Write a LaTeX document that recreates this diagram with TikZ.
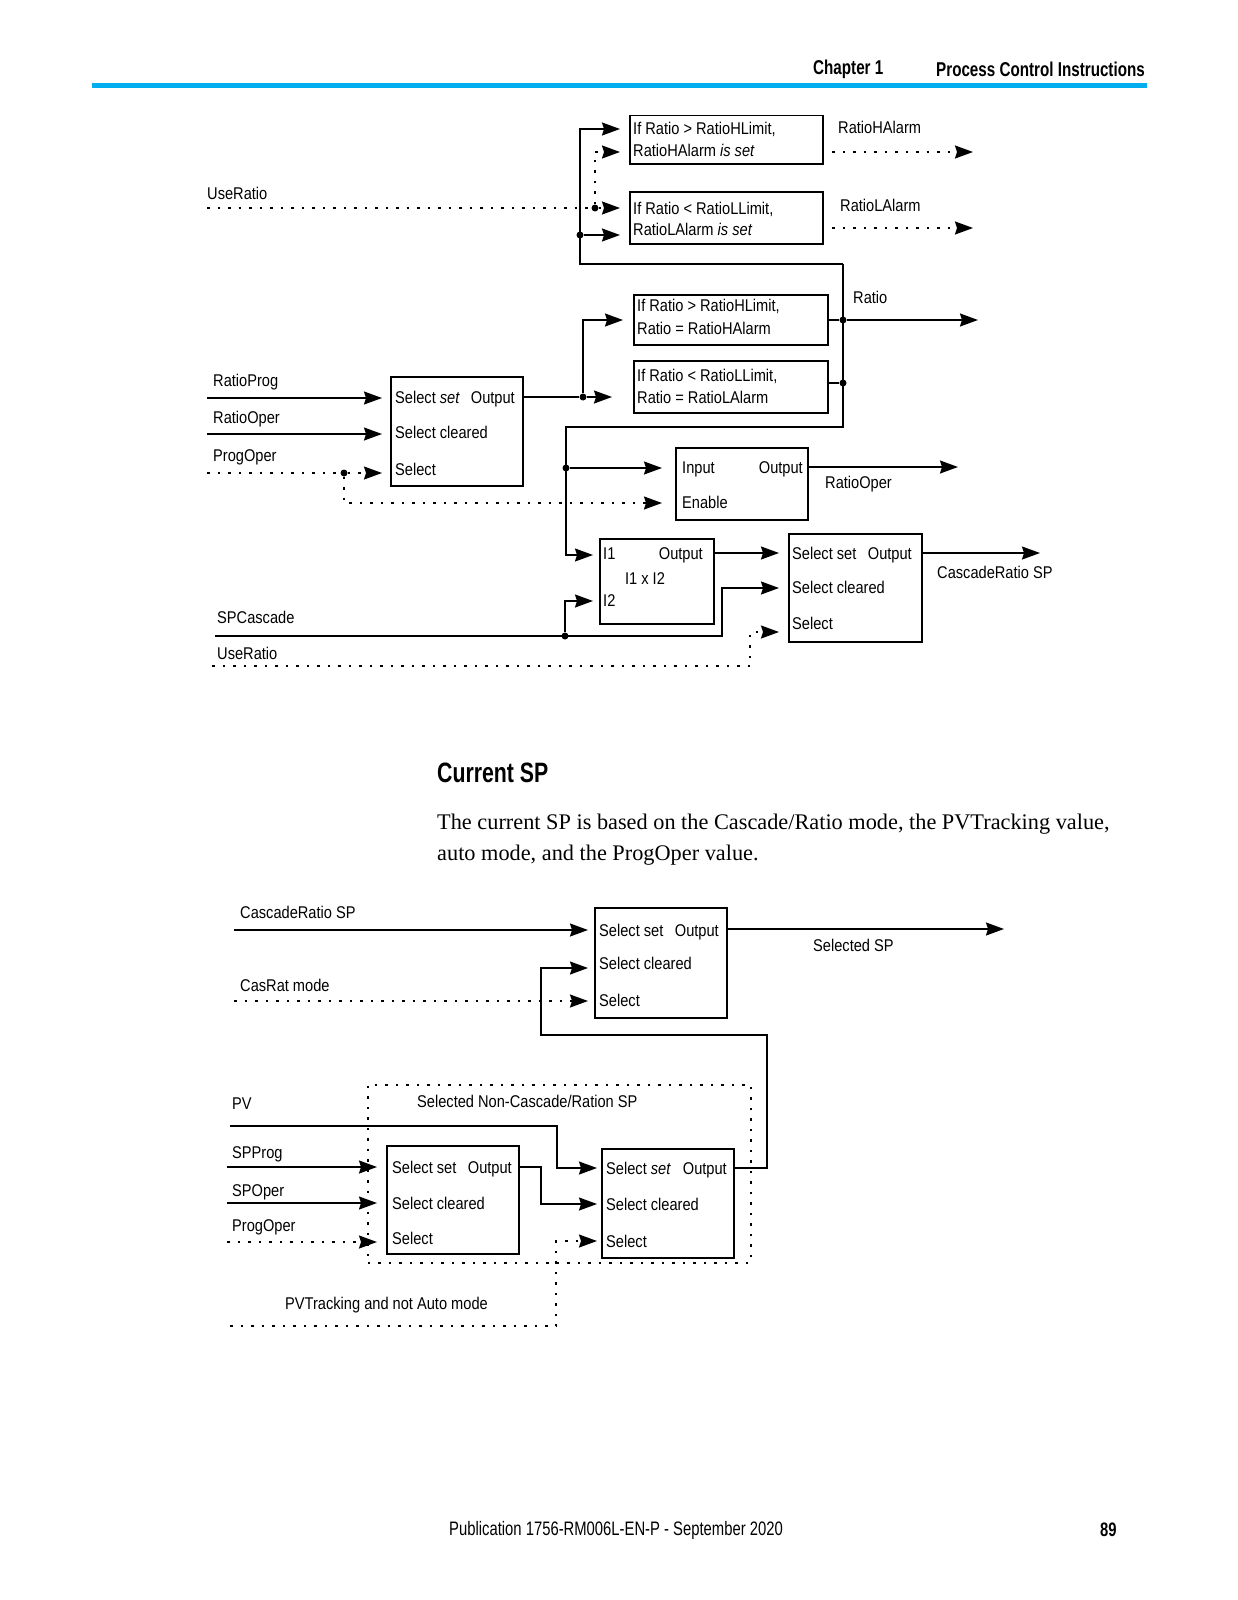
\documentclass[tikz,border=0pt]{standalone}
\usepackage{fontspec}
\setmainfont{Liberation Serif}
\newfontfamily\dfont[FakeStretch=0.86]{Liberation Sans}
\newfontfamily\hfont[FakeStretch=0.76]{Liberation Sans}
\usetikzlibrary{arrows.meta}
\definecolor{rulecyan}{RGB}{0,174,239}
\begin{document}
\begin{tikzpicture}[x=1pt,y=-1pt,
  ln/.style={line width=1.5pt},
  dl/.style={line width=1.5pt, dash pattern=on 2.5pt off 8pt},
  tip/.style={-{Stealth[length=18pt,width=13pt,inset=2pt]}},
  blk/.style={draw, line width=1.5pt, inner sep=0pt, anchor=north west},
  dotn/.style={circle, fill, inner sep=0pt, minimum size=7pt},
  lbl/.style={font=\dfont\fontsize{17}{19}\selectfont, inner sep=0pt, text height=12pt, text depth=0pt},
  lw/.style={lbl, anchor=west},
  le/.style={lbl, anchor=east},
  hdr/.style={font=\hfont\bfseries\fontsize{20}{22}\selectfont, inner sep=0pt},
]
\useasboundingbox (0,0) rectangle (1237,1600);

% ---------------- header ----------------
\node[hdr, anchor=west] (chap) at (813,69) {Chapter 1};
\node[hdr, anchor=east] (sect) at (1145,69) {Process Control Instructions};
\fill[rulecyan] (92,83) rectangle (1147,88);

% ---------------- diagram 1: boxes ----------------
\node[blk, minimum width=193pt, minimum height=48pt] (HA) at (629,115) {};
\node[blk, minimum width=193pt, minimum height=52pt] (LA) at (629,191) {};
\node[blk, minimum width=194pt, minimum height=50pt] (HR) at (633,294) {};
\node[blk, minimum width=194pt, minimum height=52pt] (LR) at (633,360) {};
\node[blk, minimum width=132pt, minimum height=109pt] (A) at (390,376) {};
\node[blk, minimum width=132pt, minimum height=72pt] (EN) at (675,447) {};
\node[blk, minimum width=114pt, minimum height=85pt] (MUL) at (599,538) {};
\node[blk, minimum width=133pt, minimum height=108pt] (C) at (788,533) {};

% box texts
\node[lw] (HA1) at (633,129) {If Ratio > RatioHLimit,};
\node[lw] (HA2) at (633,151) {RatioHAlarm \textit{is set}};
\node[lw] (LA1) at (633,208) {If Ratio < RatioLLimit,};
\node[lw] (LA2) at (633,229) {RatioLAlarm \textit{is set}};
\node[lw] (HR1) at (637,305) {If Ratio > RatioHLimit,};
\node[lw] (HR2) at (637,328) {Ratio = RatioHAlarm};
\node[lw] (LR1) at (637,375) {If Ratio < RatioLLimit,};
\node[lw] (LR2) at (637,397) {Ratio = RatioLAlarm};
\node[lw] (A1) at (395,397) {Select \textit{set}};
\node[le] (A0) at (515,397) {Output};
\node[lw] (A2) at (395,432) {Select cleared};
\node[lw] (A3) at (395,469) {Select};
\node[lw] (EN1) at (682,467) {Input};
\node[le] (EN0) at (803,467) {Output};
\node[lw] (EN2) at (682,502) {Enable};
\node[lw] (MUL1) at (603,553) {I1};
\node[le] (MUL0) at (703,553) {Output};
\node[lbl] (MULx) at (645,578) {I1 x I2};
\node[lw] (MUL2) at (603,600) {I2};
\node[lw] (C1) at (792,553) {Select set};
\node[le] (C0) at (912,553) {Output};
\node[lw] (C2) at (792,587) {Select cleared};
\node[lw] (C3) at (792,623) {Select};

% outer labels
\node[lw] (lHA) at (838,127) {RatioHAlarm};
\node[lw] (lLA) at (840,205) {RatioLAlarm};
\node[lw] (lR) at (853,297) {Ratio};
\node[lw] (lRO) at (825,482) {RatioOper};
\node[lw] (lCR) at (937,572) {CascadeRatio SP};
\node[lw] (lUR1) at (207,193) {UseRatio};
\node[lw] (lRP) at (213,380) {RatioProg};
\node[lw] (lROp) at (213,417) {RatioOper};
\node[lw] (lPO) at (213,455) {ProgOper};
\node[lw] (lSPC) at (217,617) {SPCascade};
\node[lw] (lUR2) at (217,653) {UseRatio};

% dots
\node[dotn] (d1) at (595,208) {};
\node[dotn] (d2) at (580,235) {};
\node[dotn] (d3) at (583,397) {};
\node[dotn] (d4) at (843,320) {};
\node[dotn] (d5) at (843,383) {};
\node[dotn] (d6) at (566,468) {};
\node[dotn] (d7) at (344,473) {};
\node[dotn] (d8) at (565,636) {};

% coordinates
\coordinate (ur1) at (207,208);
\coordinate (HAi1) at (620,129);
\coordinate (HAi2) at (620,152);
\coordinate (LAi1) at (620,208);
\coordinate (LAi2) at (620,235);
\coordinate (HAo) at (832,152);
\coordinate (HAt) at (973,152);
\coordinate (LAo) at (832,228);
\coordinate (LAt) at (973,228);
\coordinate (top1) at (580,129);
\coordinate (rtop) at (843,264);
\coordinate (rbot) at (843,427);
\coordinate (HRi) at (623,320);
\coordinate (LRi) at (612,397);
\coordinate (HRo) at (827,320);
\coordinate (LRo) at (827,383);
\coordinate (Rt) at (978,320);
\coordinate (I1c) at (566,555);
\coordinate (MULi1) at (593,555);
\coordinate (ENi1) at (662,468);
\coordinate (rp) at (207,398);
\coordinate (Ai1) at (382,398);
\coordinate (ro) at (207,434);
\coordinate (Ai2) at (382,434);
\coordinate (po) at (207,473);
\coordinate (Ai3) at (382,473);
\coordinate (ENi2) at (662,503);
\coordinate (ENo) at (807,467);
\coordinate (ENt) at (958,467);
\coordinate (MULo) at (713,553);
\coordinate (Ci1) at (779,553);
\coordinate (spc) at (215,636);
\coordinate (spr) at (722,636);
\coordinate (Ci2) at (779,588);
\coordinate (MULi2) at (593,601);
\coordinate (ur2) at (212,666);
\coordinate (urc) at (750,666);
\coordinate (uru) at (750,632);
\coordinate (Ci3) at (779,632);
\coordinate (Co) at (921,553);
\coordinate (Ct) at (1040,553);
\coordinate (Ao) at (522,397);

% connectors
\draw[dl] (ur1) -- (d1);
\draw[dl,tip] (d1) -- (LAi1);
\draw[dl,tip] (d1) |- (HAi2);
\draw[ln,tip] (rtop) -| (top1) -- (HAi1);
\draw[ln,tip] (d2) -- (LAi2);
\draw[dl,tip] (HAo) -- (HAt);
\draw[dl,tip] (LAo) -- (LAt);
\draw[ln,tip] (rtop) -- (rbot) -| (I1c) -- (MULi1);
\draw[ln,tip] (d6) -- (ENi1);
\draw[ln] (HRo) -- (d4);
\draw[ln] (LRo) -- (d5);
\draw[ln,tip] (d4) -- (Rt);
\draw[ln] (Ao) -- (d3);
\draw[ln,tip] (d3) -- (LRi);
\draw[ln,tip] (d3) |- (HRi);
\draw[ln,tip] (rp) -- (Ai1);
\draw[ln,tip] (ro) -- (Ai2);
\draw[dl] (po) -- (d7);
\draw[dl,tip] (d7) -- (Ai3);
\draw[dl,tip] (d7) |- (ENi2);
\draw[ln,tip] (ENo) -- (ENt);
\draw[ln,tip] (MULo) -- (Ci1);
\draw[ln,tip] (spc) -- (spr) |- (Ci2);
\draw[ln,tip] (d8) |- (MULi2);
\draw[dl,tip] (ur2) -- (urc) -- (uru) -- (Ci3);
\draw[ln,tip] (Co) -- (Ct);

% ---------------- text section ----------------
\node[font=\hfont\bfseries\fontsize{28}{31}\selectfont, anchor=west, inner sep=0pt] (cur) at (437,773) {Current SP};
\node[font=\fontsize{22.3}{26}\selectfont, anchor=base west, inner sep=0pt] (body1) at (437,829) {The current SP is based on the Cascade/Ratio mode, the PVTracking value,};
\node[font=\fontsize{22.3}{26}\selectfont, anchor=base west, inner sep=0pt] (body2) at (437,860) {auto mode, and the ProgOper value.};

% ---------------- diagram 2 ----------------
\node[blk, minimum width=132pt, minimum height=110pt] (D) at (594,907) {};
\node[blk, minimum width=132pt, minimum height=108pt] (E) at (386,1145) {};
\node[blk, minimum width=132pt, minimum height=109pt] (F) at (601,1148) {};
\node[dl, draw, inner sep=0pt, anchor=north west, minimum width=383pt, minimum height=178pt] (grp) at (367,1084) {};

\node[lw] (D1) at (599,930) {Select set};
\node[le] (D0) at (719,930) {Output};
\node[lw] (D2) at (599,963) {Select cleared};
\node[lw] (D3) at (599,1000) {Select};
\node[lw] (E1) at (392,1167) {Select set};
\node[le] (E0) at (512,1167) {Output};
\node[lw] (E2) at (392,1203) {Select cleared};
\node[lw] (E3) at (392,1238) {Select};
\node[lw] (F1) at (606,1168) {Select \textit{set}};
\node[le] (F0) at (727,1168) {Output};
\node[lw] (F2) at (606,1204) {Select cleared};
\node[lw] (F3) at (606,1241) {Select};

\node[lw] (lCRS) at (240,912) {CascadeRatio SP};
\node[lw] (lCM) at (240,985) {CasRat mode};
\node[lw] (lSSP) at (813,945) {Selected SP};
\node[lw] (lPV) at (232,1103) {PV};
\node[lw] (lSPP) at (232,1152) {SPProg};
\node[lw] (lSPO) at (232,1190) {SPOper};
\node[lw] (lPO2) at (232,1225) {ProgOper};
\node[lw] (lNC) at (417,1101) {Selected Non-Cascade/Ration SP};
\node[lw] (lPVT) at (285,1303) {PVTracking and not Auto mode};

\coordinate (crs) at (234,930);
\coordinate (Di1) at (588,930);
\coordinate (crm) at (234,1001);
\coordinate (Di3) at (588,1001);
\coordinate (Do) at (726,929);
\coordinate (Dt) at (1004,929);
\coordinate (Fo) at (733,1168);
\coordinate (fr) at (767,1168);
\coordinate (fu) at (767,1035);
\coordinate (fl) at (541,1035);
\coordinate (Di2) at (588,968);
\coordinate (pv) at (230,1126);
\coordinate (pvr) at (557,1126);
\coordinate (Fi1) at (597,1168);
\coordinate (spp) at (227,1167);
\coordinate (Ei1) at (377,1167);
\coordinate (spo) at (227,1203);
\coordinate (Ei2) at (377,1203);
\coordinate (po2) at (227,1242);
\coordinate (Ei3) at (377,1242);
\coordinate (Eo) at (518,1167);
\coordinate (er) at (541,1167);
\coordinate (Fi2) at (597,1204);
\coordinate (pvt) at (230,1326);
\coordinate (pvtr) at (556,1326);
\coordinate (Fi3) at (597,1241);

\draw[ln,tip] (crs) -- (Di1);
\draw[dl,tip] (crm) -- (Di3);
\draw[ln,tip] (Do) -- (Dt);
\draw[ln,tip] (Fo) -- (fr) -- (fu) -- (fl) |- (Di2);
\draw[ln,tip] (pv) -- (pvr) |- (Fi1);
\draw[ln,tip] (spp) -- (Ei1);
\draw[ln,tip] (spo) -- (Ei2);
\draw[dl,tip] (po2) -- (Ei3);
\draw[ln,tip] (Eo) -- (er) |- (Fi2);
\draw[dl,tip] (pvt) -- (pvtr) |- (Fi3);

% ---------------- footer ----------------
\node[font=\hfont\fontsize{19.5}{22}\selectfont, anchor=west, inner sep=0pt] (pub) at (449,1530) {Publication 1756-RM006L-EN-P - September 2020};
\node[font=\hfont\bfseries\fontsize{19.5}{22}\selectfont, anchor=west, inner sep=0pt] (pg) at (1100,1530) {89};
\end{tikzpicture}
\end{document}
